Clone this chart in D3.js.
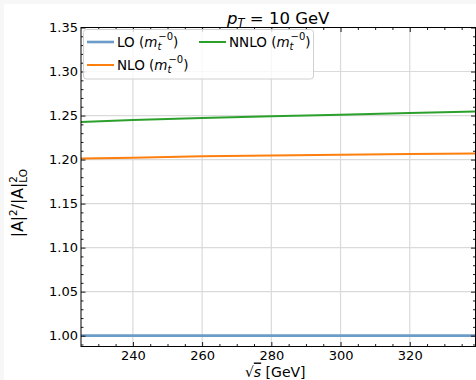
<!DOCTYPE html>
<html><head><meta charset="utf-8">
<script src="https://cdn.jsdelivr.net/npm/d3@7"></script>
<style>
html,body{margin:0;padding:0;background:#f7f7f7;}
svg{display:block;font-family:"DejaVu Sans",sans-serif;}
</style></head>
<body>
<svg id="chart" width="476" height="380"></svg>
<script>
const sqrtS = [225, 240, 260, 280, 300, 320, 339];
const loValues = [1.000, 1.000, 1.000, 1.000, 1.000, 1.000, 1.000];
const nloValues = [1.2011, 1.2022, 1.2037, 1.2047, 1.2055, 1.2062, 1.2068];
const nnloValues = [1.2428, 1.2450, 1.2473, 1.2492, 1.2510, 1.2530, 1.2545];
const xTicks = [240, 260, 280, 300, 320];
const yTicks = [1.00, 1.05, 1.10, 1.15, 1.20, 1.25, 1.30, 1.35];
const seriesNames = ["LO", "NLO", "NNLO"];
const seriesColors = ["#6b9bc7", "#ff7f0e", "#2ca02c"];

const svg = d3.select("#chart");
svg.append("rect").attr("x",4).attr("y",4).attr("width",472).attr("height",376).attr("fill","#fff");

const L = 81, R = 475.5, T = 27.5, B = 346.5;
const x = d3.scaleLinear().domain([225, 339]).range([L, R]);
const y = d3.scaleLinear().domain([0.9877, 1.35]).range([B, T]);

const g = svg.append("g");
// grid
g.selectAll(".gx").data(xTicks).enter().append("line")
  .attr("x1",d=>x(d)).attr("x2",d=>x(d)).attr("y1",T).attr("y2",B)
  .attr("stroke","#dadada").attr("stroke-width",1.2);
g.selectAll(".gy").data(yTicks).enter().append("line")
  .attr("y1",d=>y(d)).attr("y2",d=>y(d)).attr("x1",L).attr("x2",R)
  .attr("stroke","#dadada").attr("stroke-width",1.2);

// lines
const series = [loValues, nloValues, nnloValues];
const lineGen = vals => d3.line().x((d,i)=>x(sqrtS[i])).y(d=>y(d))(vals);
series.forEach((vals,i)=>{
  g.append("path").attr("d", lineGen(vals)).attr("fill","none")
   .attr("stroke", seriesColors[i]).attr("stroke-width", i===0?2.6:2);
});

// axes with inward ticks
const xMinor = d3.range(230, 340, 5).filter(v=>!xTicks.includes(v));
const yMinor = d3.range(99, 136).map(v=>v/100).filter(v=>!yTicks.some(t=>Math.abs(t-v)<1e-6) && v>=y.domain()[0]);
function tickLines(sel){ sel.selectAll("path").remove(); sel.selectAll("line").attr("stroke","#000").attr("stroke-width",0.9); }

const ax = g.append("g").attr("transform",`translate(0,${B})`)
  .call(d3.axisBottom(x).tickValues(xTicks).tickSize(-4.5).tickPadding(4.5).tickFormat(d3.format("d")));
tickLines(ax); ax.selectAll("text").attr("font-size",13).attr("fill","#000").attr("font-family","DejaVu Sans");
const axm = g.append("g").attr("transform",`translate(0,${B})`)
  .call(d3.axisBottom(x).tickValues(xMinor).tickSize(-2.5).tickFormat(""));
tickLines(axm);
const axt = g.append("g").attr("transform",`translate(0,${T})`)
  .call(d3.axisTop(x).tickValues(xTicks).tickSize(-4.5).tickFormat(""));
tickLines(axt);
const axtm = g.append("g").attr("transform",`translate(0,${T})`)
  .call(d3.axisTop(x).tickValues(xMinor).tickSize(-2.5).tickFormat(""));
tickLines(axtm);

const ay = g.append("g").attr("transform",`translate(${L},0)`)
  .call(d3.axisLeft(y).tickValues(yTicks).tickSize(-4.5).tickPadding(3).tickFormat(d3.format(".2f")));
tickLines(ay); ay.selectAll("text").attr("font-size",13).attr("fill","#000").attr("font-family","DejaVu Sans");
const aym = g.append("g").attr("transform",`translate(${L},0)`)
  .call(d3.axisLeft(y).tickValues(yMinor).tickSize(-2.5).tickFormat(""));
tickLines(aym);
const ayr = g.append("g").attr("transform",`translate(${R},0)`)
  .call(d3.axisRight(y).tickValues(yTicks).tickSize(-4.5).tickFormat(""));
tickLines(ayr);
const ayrm = g.append("g").attr("transform",`translate(${R},0)`)
  .call(d3.axisRight(y).tickValues(yMinor).tickSize(-2.5).tickFormat(""));
tickLines(ayrm);

// frame
g.append("rect").attr("x",L).attr("y",T).attr("width",R-L).attr("height",B-T)
  .attr("fill","none").attr("stroke","#000").attr("stroke-width",1);

// title
const title = svg.append("text").attr("x",(L+R)/2).attr("y",23.5).attr("text-anchor","middle")
  .attr("font-size",16.5).attr("fill","#000");
title.append("tspan").attr("font-style","italic").text("p");
title.append("tspan").attr("font-style","italic").attr("font-size",11.5).attr("dy",3).text("T");
title.append("tspan").attr("dy",-3).text(" = 10 GeV");

// x label
const xl = svg.append("text").attr("x",(L+R)/2 - 3).attr("y",376.5).attr("text-anchor","middle")
  .attr("font-size",14).attr("fill","#000");
xl.append("tspan").text("√");
xl.append("tspan").attr("font-style","italic").attr("text-decoration","overline").text("s");
xl.append("tspan").text(" [GeV]");

// y label
const yl = svg.append("text").attr("transform","translate(23,203) rotate(-90)").attr("text-anchor","middle")
  .attr("font-size",15.6).attr("fill","#000");
yl.append("tspan").text("|A|");
yl.append("tspan").attr("font-size",10.5).attr("dy",-6).text("2");
yl.append("tspan").attr("dy",6).text("/|A|");
yl.append("tspan").attr("font-size",10.5).attr("dy",-6).text("2");
yl.append("tspan").attr("font-size",10.5).attr("dx",-6.5).attr("dy",10).text("LO");

// legend
const leg = svg.append("g");
leg.append("rect").attr("x",83.5).attr("y",29.5).attr("width",230).attr("height",49.5).attr("rx",3)
  .attr("fill","#fff").attr("fill-opacity",0.8).attr("stroke","#d0d0d0").attr("stroke-width",1);
const legPos = [[87,42],[87,65],[199,42]];
seriesNames.forEach((name,i)=>{
  const [lx,ly] = legPos[i];
  leg.append("line").attr("x1",lx).attr("x2",lx+27).attr("y1",ly).attr("y2",ly)
    .attr("stroke",seriesColors[i]).attr("stroke-width",i===0?2.6:2);
  const t = leg.append("text").attr("x",lx+30).attr("y",ly+4.5).attr("font-size",13.5).attr("fill","#000");
  t.append("tspan").text(name+" (");
  t.append("tspan").attr("font-style","italic").text("m");
  t.append("tspan").attr("font-style","italic").attr("font-size",10).attr("dy",3.5).text("t");
  t.append("tspan").attr("font-size",10).attr("dx",-3).attr("dy",-10).text("−0");
  t.append("tspan").attr("dy",6.5).text(")");
});
</script>
</body></html>
